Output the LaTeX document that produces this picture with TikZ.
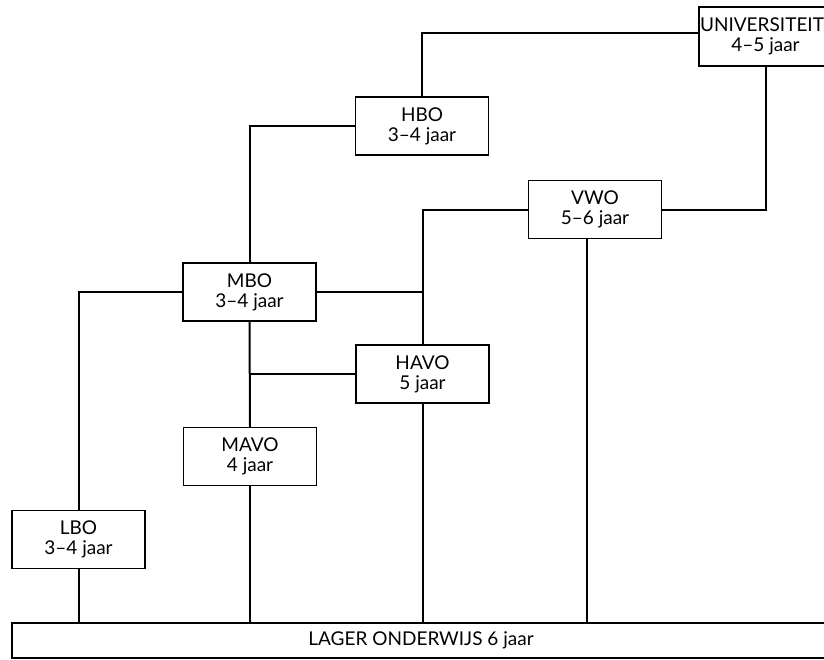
\documentclass[tikz,border=0pt]{standalone}
\usepackage{fontspec}
\setmainfont{Lato}
\begin{document}
\begin{tikzpicture}[x=1pt,y=-1pt,
  stage/.style={draw, line width=1.5pt, minimum width=133pt, minimum height=58pt,
    inner sep=0pt, align=center, font=\fontsize{19}{20}\selectfont},
  link/.style={line width=2pt}]
\useasboundingbox (0,0) rectangle (824,659);
\clip (0,0) rectangle (824,659);
\node[stage, minimum height=59pt] (uni) at (765.5,36.5) {\hspace*{-7pt}UNIVERSITEIT\\4--5 jaar};
\node[stage] (hbo) at (422,126) {HBO\\3--4 jaar};
\node[stage] (vwo) at (595,209.5) {VWO\\5--6 jaar};
\node[stage] (mbo) at (249.5,292) {MBO\\3--4 jaar};
\node[stage] (havo) at (422.5,374) {HAVO\\5 jaar};
\node[stage] (mavo) at (250,456.5) {MAVO\\4 jaar};
\node[stage] (lbo) at (78.5,539.5) {LBO\\3--4 jaar};
\node[stage, minimum width=818pt, minimum height=35pt] (lager) at (421,640.5) {LAGER ONDERWIJS 6 jaar};
\coordinate (vwofoot) at ([xshift=-8pt]vwo.south);
\draw[link] ([yshift=3.5pt]uni.west) -| (hbo.north);
\draw[link] (uni.south) |- (vwo.east);
\draw[link] (hbo.west) -| (mbo.north);
\draw[link] (vwo.west) -| (havo.north);
\draw[link] (mbo.east) -- (mbo.east -| havo.north);
\draw[link] (mbo.west) -| (lbo.north);
\draw[link] (mbo.south) -- (mavo.north);
\draw[link] (havo.west) -- (havo.west -| mbo.south);
\draw[link] (mavo.south) -- (mavo.south |- lager.north);
\draw[link] (lbo.south) -- (lbo.south |- lager.north);
\draw[link] (havo.south) -- (havo.south |- lager.north);
\draw[link] (vwofoot) -- (vwofoot |- lager.north);
\end{tikzpicture}
\end{document}
